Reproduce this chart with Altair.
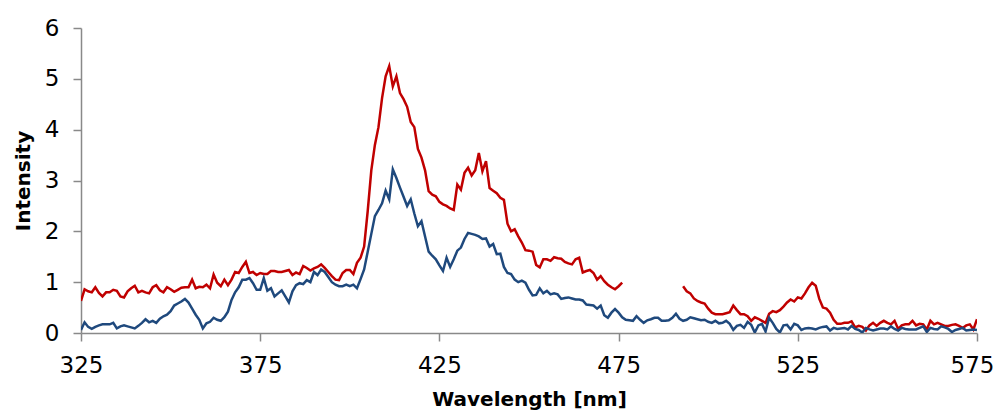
import altair as alt
import pandas as pd

wl_start = 325
red = [
0.63,0.86,0.82,0.80,0.90,0.79,0.72,0.80,0.80,0.85,
0.83,0.72,0.70,0.82,0.88,0.93,0.80,0.83,0.80,0.78,
0.90,0.94,0.84,0.80,0.90,0.86,0.81,0.85,0.89,0.90,
0.90,1.05,0.88,0.91,0.90,0.95,0.88,1.15,0.99,0.92,
1.05,0.94,1.05,1.20,1.18,1.30,1.40,1.18,1.20,1.14,
1.18,1.16,1.16,1.22,1.22,1.20,1.20,1.22,1.24,1.14,
1.19,1.16,1.32,1.28,1.23,1.27,1.30,1.35,1.28,1.20,
1.12,1.05,1.04,1.18,1.24,1.24,1.16,1.38,1.48,1.70,
2.40,3.20,3.70,4.05,4.62,5.05,5.25,4.85,5.05,4.72,
4.60,4.45,4.15,4.05,3.62,3.45,3.20,2.79,2.72,2.69,
2.58,2.53,2.50,2.45,2.42,2.92,2.82,3.15,3.25,3.10,
3.20,3.54,3.18,3.38,2.85,2.80,2.75,2.66,2.62,2.15,
2.00,2.04,1.90,1.78,1.63,1.62,1.60,1.34,1.29,1.45,
1.45,1.42,1.49,1.47,1.46,1.40,1.37,1.35,1.45,1.48,
1.19,1.22,1.24,1.18,1.05,1.12,1.02,0.95,0.90,0.86,
0.92,0.99,None,None,None,None,None,None,None,None,
None,None,None,None,None,None,None,None,0.92,0.82,
0.78,0.68,0.63,0.60,0.58,0.48,0.40,0.37,0.37,0.37,
0.39,0.41,0.54,0.45,0.37,0.37,0.33,0.24,0.31,0.28,
0.24,0.20,0.38,0.43,0.41,0.45,0.52,0.60,0.66,0.62,
0.70,0.68,0.78,0.90,0.99,0.93,0.67,0.50,0.48,0.40,
0.26,0.18,0.18,0.20,0.20,0.23,0.11,0.14,0.12,0.05,
0.15,0.20,0.14,0.20,0.24,0.20,0.17,0.24,0.08,0.15,
0.17,0.17,0.24,0.15,0.18,0.17,0.07,0.24,0.17,0.20,
0.17,0.14,0.14,0.16,0.17,0.14,0.10,0.15,0.17,0.07,
0.27,
]
blue = [
0.06,0.21,0.12,0.08,0.12,0.15,0.17,0.17,0.17,0.20,
0.09,0.13,0.15,0.13,0.11,0.09,0.14,0.20,0.27,0.21,
0.24,0.20,0.28,0.33,0.36,0.43,0.54,0.58,0.62,0.67,
0.60,0.48,0.36,0.26,0.09,0.19,0.22,0.30,0.26,0.24,
0.31,0.42,0.65,0.80,0.90,1.05,1.05,1.08,0.98,0.85,
0.85,1.08,0.83,0.88,0.72,0.78,0.84,0.72,0.60,0.82,
0.94,0.98,0.96,1.04,1.00,1.20,1.14,1.25,1.20,1.10,
1.00,0.95,0.92,0.92,0.95,0.92,0.95,0.88,1.06,1.25,
1.60,1.95,2.30,2.42,2.55,2.80,2.63,3.22,3.05,2.86,
2.68,2.50,2.63,2.35,2.10,2.20,1.90,1.60,1.52,1.45,
1.33,1.22,1.48,1.30,1.45,1.62,1.68,1.85,1.97,1.95,
1.93,1.90,1.85,1.86,1.70,1.75,1.55,1.56,1.30,1.18,
1.16,1.05,1.00,1.03,0.99,0.85,0.74,0.75,0.88,0.78,
0.83,0.76,0.78,0.76,0.67,0.69,0.70,0.68,0.66,0.66,
0.64,0.56,0.55,0.54,0.48,0.54,0.35,0.30,0.40,0.47,
0.40,0.31,0.26,0.25,0.24,0.33,0.26,0.20,0.25,0.27,
0.30,0.30,0.24,0.24,0.25,0.30,0.38,0.28,0.24,0.26,
0.31,0.29,0.27,0.25,0.26,0.22,0.20,0.24,0.19,0.20,
0.24,0.18,0.06,0.14,0.16,0.10,0.22,0.16,0.01,0.15,
0.18,0.03,0.30,0.20,0.08,0.01,0.15,0.16,0.07,0.18,
0.15,0.06,0.09,0.10,0.09,0.07,0.10,0.12,0.13,0.05,
0.10,0.08,0.09,0.10,0.07,0.14,0.08,0.06,0.01,0.10,
0.07,0.05,0.07,0.09,0.09,0.07,0.13,0.08,0.05,0.10,
0.08,0.07,0.07,0.07,0.10,0.13,0.02,0.10,0.08,0.07,
0.13,0.11,0.08,0.02,0.06,0.08,0.10,0.05,0.06,0.07,
0.06,
]
x_ticks = [325, 375, 425, 475, 525, 575]
y_ticks = [0, 1, 2, 3, 4, 5, 6]

rows = []
for name, vals in (("red", red), ("blue", blue)):
    seg = 0
    for i, v in enumerate(vals):
        if v is None:
            seg += 1
            continue
        rows.append({"wl": wl_start + i, "val": v, "series": name, "seg": f"{name}{seg}"})
df = pd.DataFrame(rows)

AX = "#898989"
FONT = "DejaVu Sans"

chart = alt.Chart(df).mark_line(strokeWidth=2.5, clip=True).encode(
    x=alt.X("wl:Q", scale=alt.Scale(domain=[325, 575], nice=False, zero=False),
            axis=alt.Axis(values=x_ticks, title="Wavelength [nm]", grid=False,
                          tickSize=8, labelPadding=13, labelFlush=False, titlePadding=12,
                          labelAlign={"condition": {"test": "datum.value == 575", "value": "right"}, "value": "center"},
                          labelOffset={"condition": {"test": "datum.value == 575", "value": 17}, "value": 0},
                          domainColor=AX, tickColor=AX, domainWidth=1.5, tickWidth=1.5,
                          labelFont=FONT, labelFontSize=23, labelColor="black",
                          titleFont=FONT, titleFontSize=20, titleFontWeight="bold", titleColor="black")),
    y=alt.Y("val:Q", scale=alt.Scale(domain=[0, 6], nice=False),
            axis=alt.Axis(values=y_ticks, title="Intensity", grid=False,
                          tickSize=8, labelPadding=14, titlePadding=11,
                          domainColor=AX, tickColor=AX, domainWidth=1.5, tickWidth=1.5,
                          labelFont=FONT, labelFontSize=23, labelColor="black",
                          titleFont=FONT, titleFontSize=20, titleFontWeight="bold", titleColor="black")),
    color=alt.Color("series:N", scale=alt.Scale(domain=["red", "blue"], range=["#C00000", "#1F497D"]), legend=None),
    detail="seg:N",
    order="wl:Q",
).properties(
    width=896, height=305,
    autosize=alt.AutoSizeParams(type="none"),
    padding={"left": 73, "top": 20, "right": 17, "bottom": 80},
).configure_view(stroke=None)

chart.save("out.html", embed_options={"renderer": "svg", "actions": False})
